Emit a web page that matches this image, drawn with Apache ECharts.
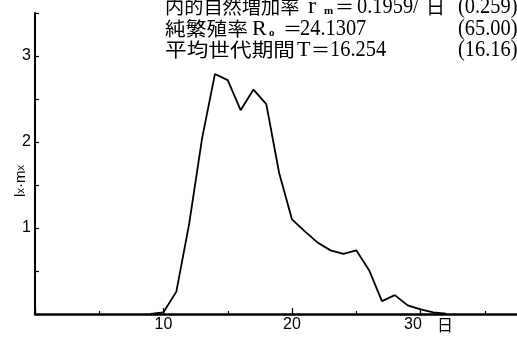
<!DOCTYPE html>
<html><head><meta charset="utf-8">
<script src="https://cdn.jsdelivr.net/npm/echarts@6/dist/echarts.min.js"></script>
<style>html,body{margin:0;padding:0;background:#fff}#c{width:517px;height:337px}</style>
</head><body><div id="c"></div>
<script>
// data
var days = [9,10,11,12,13,14,15,16,17,18,19,20,21,22,23,24,25,26,27,28,29,30,31,32];
var lxmx = [0,0.02,0.26,1.05,2.04,2.79,2.72,2.37,2.61,2.44,1.64,1.10,0.96,0.83,0.74,0.70,0.74,0.51,0.15,0.22,0.10,0.055,0.02,0.005];
var xTickLabels = [10,20,30];
var yTickLabels = [1,2,3];

var CJK = '"Noto Sans CJK JP"';
var SER = '"Liberation Serif", serif';
var chart = echarts.init(document.getElementById('c'));
var pts = days.map(function(d,i){return [d,lxmx[i]];});

function txt(x,y,t,font,sx){
  return {type:'text',x:x,y:y,scaleX:sx||1,silent:true,
    style:{text:t,font:font,fill:'#000',verticalAlign:'middle',textVerticalAlign:'middle'}};
}
var cjkF = '19px '+CJK, numF = '24px '+SER, latF='22px '+SER, subF='bold 11px '+SER;
var NS = 0.85;
var g = [
  // row 1
  txt(165,7,'内的自然増加率',cjkF,1.01),
  txt(308,7,'r','24px '+SER),
  txt(324,11,'m',subF),
  txt(335,7,'＝',cjkF),
  txt(357,7,'0.1959/',numF,NS),
  txt(426,7,'日',cjkF),
  txt(458,7,'(0.259)',numF,NS),
  // row 2
  txt(165,29,'純繁殖率',cjkF,1.09),
  txt(252,29,'R',latF),
  txt(269,33,'o',subF),
  txt(283,29,'＝',cjkF),
  txt(300,29,'24.1307',numF,NS),
  txt(458,29,'(65.00)',numF,NS),
  // row 3
  txt(165,50,'平均世代期間',cjkF,1.14),
  txt(297,50,'T',latF),
  txt(311,50,'＝',cjkF),
  txt(330,50,'16.254',numF,NS),
  txt(458,50,'(16.16)',numF,NS),
  // y axis name
  {type:'text',x:21,y:181,rotation:Math.PI/2,silent:true,
   style:{text:'{a|l}{b|x}{a|·m}{b|x}',align:'center',verticalAlign:'middle',textAlign:'center',textVerticalAlign:'middle',fill:'#000',
     rich:{a:{font:'15px "Liberation Sans"',fill:'#000'},b:{font:'11px "Liberation Sans"',fill:'#000'}}}}
];

chart.setOption({
  animation:false,
  backgroundColor:'#fff',
  grid:{left:35,width:514,top:13,bottom:23,containLabel:false,outerBoundsMode:'none'},
  xAxis:[{
    type:'value',min:0,max:40,interval:5,position:'bottom',
    axisLine:{show:true,onZero:false,lineStyle:{color:'#000',width:2.5}},
    axisTick:{show:true,inside:true,length:3,lineStyle:{color:'#000',width:1.2}},
    splitLine:{show:false},
    axisLabel:{margin:3,color:'#000',fontFamily:'Liberation Sans',fontSize:16,
      formatter:function(v){
        if(xTickLabels.indexOf(v)<0) return '';
        if(v===30) return '{p|30}{u|日}';
        return String(v);
      },
      rich:{p:{fontFamily:'Liberation Sans',fontSize:16,color:'#000',padding:[0,15,0,16]},
            u:{fontFamily:'Noto Sans CJK JP',fontSize:16,color:'#000'}}}
  },{
    type:'value',min:0,max:40,interval:10,position:'bottom',
    axisLine:{show:false},
    axisTick:{show:true,inside:true,length:6,lineStyle:{color:'#000',width:1.2}},
    splitLine:{show:false},axisLabel:{show:false}
  }],
  yAxis:{
    type:'value',min:0,max:3.5,interval:0.5,
    axisLine:{show:true,lineStyle:{color:'#000',width:2}},
    axisTick:{show:true,inside:true,length:4,lineStyle:{color:'#000',width:1.2}},
    splitLine:{show:false},
    axisLabel:{margin:4,color:'#000',fontFamily:'Liberation Sans',fontSize:16,
      formatter:function(v){return yTickLabels.indexOf(v)>=0?String(v):'';}}
  },
  series:[{type:'line',data:pts,showSymbol:false,symbol:'none',
    lineStyle:{color:'#000',width:1.8},clip:false}],
  graphic:g
});
</script></body></html>
